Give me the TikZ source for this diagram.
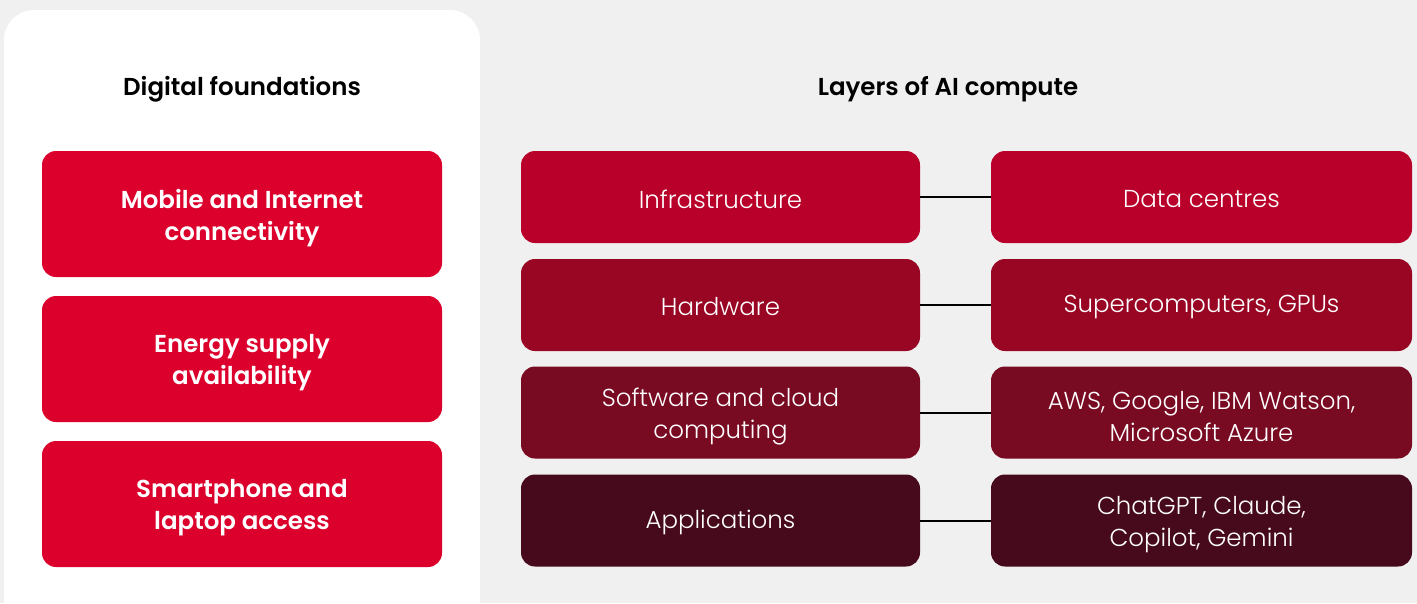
\documentclass[tikz,border=0pt]{standalone}
\usepackage{fontspec}
\setmainfont{Poppins}[BoldFont={Poppins SemiBold}]
\newfontfamily\lightfont{Poppins Light}
\definecolor{bggray}{RGB}{240,240,240}
\definecolor{redA}{RGB}{220,0,45}
\definecolor{row1}{RGB}{184,0,43}
\definecolor{row2}{RGB}{152,6,36}
\definecolor{row3}{RGB}{120,10,34}
\definecolor{row4}{RGB}{70,10,28}
\tikzset{
  box/.style={rounded corners=14pt, inner sep=0pt},
  found/.style={box, fill=redA, minimum width=400pt, minimum height=126pt},
  layer/.style={box, fill=#1, minimum width=399pt, minimum height=92pt},
  example/.style={box, fill=#1, minimum width=421pt, minimum height=92pt},
  boldtxt/.style={align=center, text=white, inner sep=0pt, font=\fontsize{24.5}{32}\selectfont\bfseries},
  lighttxt/.style={align=center, text=white, inner sep=0pt, font=\fontsize{24.5}{32}\selectfont\lightfont},
  title/.style={font=\fontsize{24.5}{28}\selectfont\bfseries, text=black},
  link/.style={draw=black, line width=2pt}
}
\begin{document}
\begin{tikzpicture}[x=1pt,y=-1pt]
\useasboundingbox (0,0) rectangle (1417,603);
\clip (0,0) rectangle (1417,603);
\fill[bggray] (0,0) rectangle (1417,603);
\fill[white, rounded corners=30pt] (4,10) rectangle (480,640);

\node[title] (tl) at (242,89) {Digital foundations};
\node[title] (tr) at (948,89) {Layers of AI compute};

\node[found] (f1) at (242,214) {};
\node[found] (f2) at (242,359) {};
\node[found] (f3) at (242,504) {};
\node[boldtxt] (tf1) at ([yshift=-4pt]f1.center) {Mobile and Internet\\connectivity};
\node[boldtxt] (tf2) at ([yshift=-4pt]f2.center) {Energy supply\\availability};
\node[boldtxt] (tf3) at ([yshift=-4pt]f3.center) {Smartphone and\\laptop access};

\node[layer=row1] (l1) at (720.5,197) {};
\node[layer=row2] (l2) at (720.5,305) {};
\node[layer=row3] (l3) at (720.5,412.5) {};
\node[layer=row4] (l4) at (720.5,520.5) {};
\node[lighttxt] (tl1) at ([yshift=-2pt]l1.center) {Infrastructure};
\node[lighttxt] (tl2) at ([yshift=-2pt]l2.center) {Hardware};
\node[lighttxt] (tl3) at ([yshift=-4pt]l3.center) {Software and cloud\\computing};
\node[lighttxt] (tl4) at ([yshift=-2pt]l4.center) {Applications};

\node[example=row1] (e1) at (1201.5,197) {};
\node[example=row2] (e2) at (1201.5,305) {};
\node[example=row3] (e3) at (1201.5,412.5) {};
\node[example=row4] (e4) at (1201.5,520.5) {};
\node[lighttxt] (te1) at ([yshift=-2pt]e1.center) {Data centres};
\node[lighttxt] (te2) at ([yshift=-2pt]e2.center) {Supercomputers, GPUs};
\node[lighttxt] (te3) at ([yshift=-4pt]e3.center) {AWS, Google, IBM Watson,\\Microsoft Azure};
\node[lighttxt] (te4) at ([yshift=-4pt]e4.center) {ChatGPT, Claude,\\Copilot, Gemini};

\draw[link] (l1.east) -- (e1.west);
\draw[link] (l2.east) -- (e2.west);
\draw[link] (l3.east) -- (e3.west);
\draw[link] (l4.east) -- (e4.west);
\end{tikzpicture}
\end{document}
